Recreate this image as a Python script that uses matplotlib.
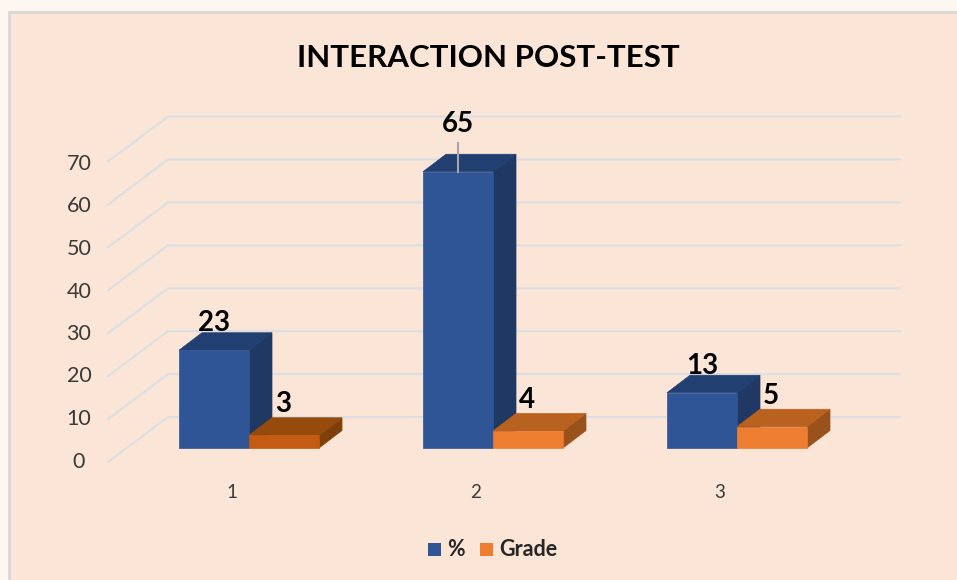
import matplotlib
matplotlib.use("Agg")
import matplotlib.pyplot as plt
from matplotlib.patches import Polygon, Rectangle

plt.rcParams["font.family"] = ["Lato", "DejaVu Sans"]

categories = [1, 2, 3]
pct_values = [23, 65, 13]
grade_values = [3, 4, 5]
y_ticks = [0, 10, 20, 30, 40, 50, 60, 70]

BG = "#FBE5D6"
BLUE = ("#2F5597", "#223F71", "#1F3864")
ORANGE = ("#ED7D31", "#B9611F", "#99521C")
ORANGE_DARK = ("#C55A11", "#964B0C", "#7F3F0A")
GRID = "#DADFE3"

W, H = 957, 580
PX_X = 244.0    # pixels per category
PX_Y = 4.25     # pixels per value unit
BAR_W = 70 / PX_X
DX = 23 / PX_X          # 3d depth
DY = 17.5 / PX_Y
GRID_SCALE = 1.01       # back wall is a touch taller than the bars


def bar3d(ax, x, val, cols):
    front, top, side = cols
    y0 = 0
    ax.add_patch(Polygon([(x + BAR_W, y0), (x + BAR_W + DX, y0 + DY),
                          (x + BAR_W + DX, val + DY), (x + BAR_W, val)],
                         fc=side, ec=side, lw=0.5, zorder=3 + x * 0.01))
    ax.add_patch(Polygon([(x, val), (x + DX, val + DY),
                          (x + BAR_W + DX, val + DY), (x + BAR_W, val)],
                         fc=top, ec=top, lw=0.5, zorder=3 + x * 0.01))
    ax.add_patch(Rectangle((x, y0), BAR_W, val, fc=front, ec=front, lw=0.5,
                           zorder=3.5 + x * 0.01))


fig = plt.figure(figsize=(W / 100, H / 100), dpi=100, facecolor="#FDF6F1")
ax = fig.add_axes([0, 0, 1, 1])
ax.set_xlim(1 - 249 / PX_X, 1 + (W - 249) / PX_X)
ax.set_ylim(-(H - 448) / PX_Y, 448 / PX_Y)
ax.axis("off")


def px(xp, yp):
    return 1 + (xp - 249) / PX_X, (448 - yp) / PX_Y


# chart area: only the top and left edges show a border
x0, y1 = px(9, 12)
x1, y0 = px(W, H)
ax.add_patch(Rectangle((x0, y0), x1 - x0, y1 - y0, fc=BG, ec="none", zorder=0))
ax.plot([x0, x0, x1], [y0, y1, y1], color="#D9D9D9", lw=2.2, zorder=0.5)

# wall and floor gridlines
xa, xb, xc = px(108, 0)[0], px(168, 0)[0], px(900, 0)[0]
for t in y_ticks:
    v = t * GRID_SCALE
    back = v + 31 / PX_Y
    front = v - 14 / PX_Y
    ax.plot([xa, xb, xc], [front, back, back], color=GRID, lw=1.5, zorder=1,
            solid_joinstyle="miter")

for t in y_ticks:
    v = t - 13.5 / PX_Y
    ax.text(px(79, 0)[0], v, str(t), ha="center", va="center", fontsize=15.5, color="#3A3A3A")

for i, c in enumerate(categories):
    bar3d(ax, c - BAR_W, pct_values[i], BLUE)
    bar3d(ax, c, grade_values[i], ORANGE_DARK if i == 0 else ORANGE)
    ax.text(c - 17 / PX_X, -44.5 / PX_Y, str(c), ha="center", va="center",
            fontsize=13.5, color="#3A3A3A", zorder=5)

# value labels
for i, c in enumerate(categories):
    xc = c - BAR_W / 2
    off = 48 if pct_values[i] > 50 else 27
    if pct_values[i] > 50:
        ax.plot([xc, xc], [pct_values[i], pct_values[i] + 29 / PX_Y], color="#A6A6A6", lw=1.5, zorder=6)
    ax.text(xc, pct_values[i] + off / PX_Y, str(pct_values[i]), ha="center", va="center",
            fontsize=20, fontweight="bold", color="black", zorder=7)
    ax.text(c + 34 / PX_X, grade_values[i] + 31 / PX_Y, str(grade_values[i]), ha="center", va="center",
            fontsize=20, fontweight="bold", color="black", zorder=7)

# title
tx, ty = px(488, 58)
ax.text(tx, ty, "INTERACTION POST-TEST", ha="center", va="center", fontsize=22.5,
        fontweight="bold", color="black", zorder=7)

# legend, hand placed like the office one
for (xp, name, col, tp) in [(428, "%", BLUE[0], 447), (480, "Grade", ORANGE[0], 499)]:
    lx, ly = px(xp, 556)
    ax.add_patch(Rectangle((lx, ly), 13 / PX_X, 13 / PX_Y, fc=col, ec="none", zorder=5))
    ax.text(px(tp, 0)[0], px(0, 549)[1], name, ha="left", va="center", fontsize=15.5,
            fontweight="bold", color="#262626", zorder=5)

fig.savefig("out.png", dpi=100)
